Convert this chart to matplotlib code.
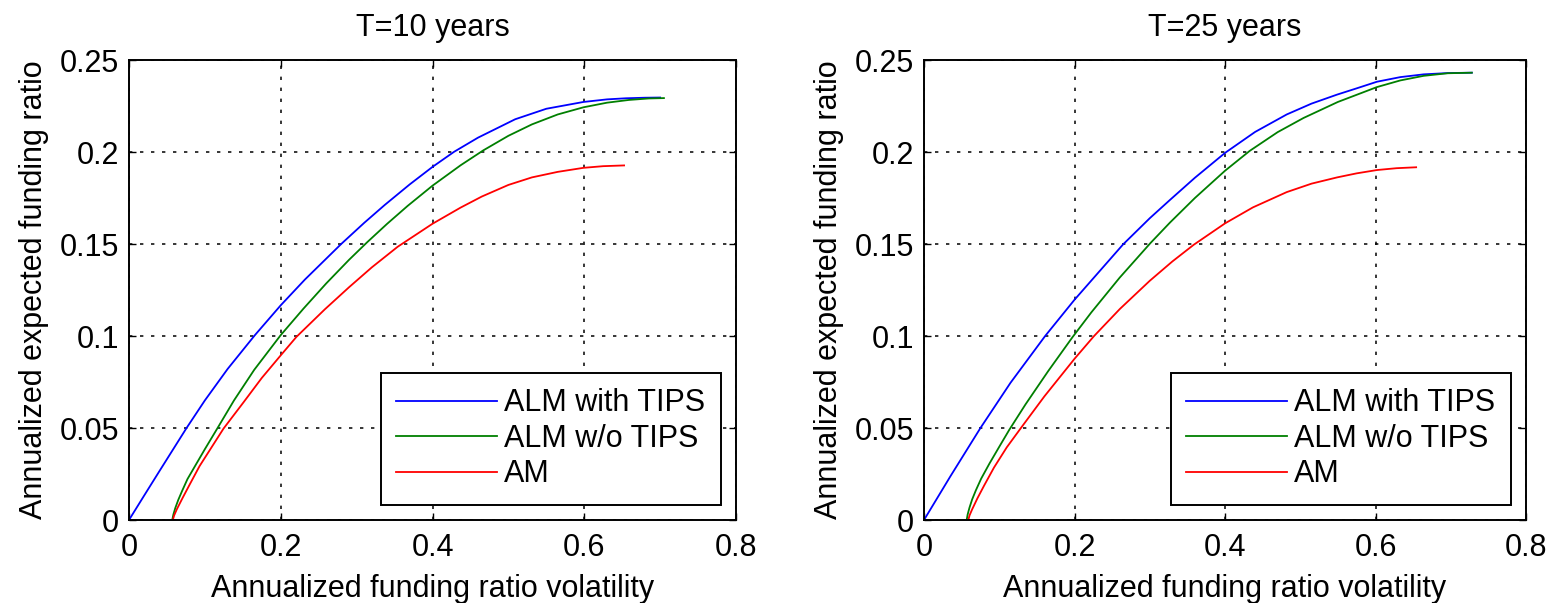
import matplotlib
matplotlib.use("Agg")
import matplotlib.pyplot as plt

# ---------------- data ----------------
titles = ["T=10 years", "T=25 years"]
series_labels = ["ALM with TIPS", "ALM w/o TIPS", "AM"]

# T = 10 years
t10_tips_x = [0, 0.02, 0.04, 0.0757, 0.10, 0.13, 0.166, 0.2, 0.2319, 0.2799, 0.31, 0.337, 0.37, 0.4,
              0.4284, 0.46, 0.509, 0.55, 0.599, 0.63, 0.655, 0.68, 0.70]
t10_tips_y = [0, 0.0133, 0.0265, 0.0499, 0.065, 0.0821, 0.1005, 0.1167, 0.1307, 0.1501, 0.1615, 0.1712,
              0.1824, 0.1919, 0.2001, 0.2078, 0.2178, 0.2235, 0.2272, 0.2286, 0.2292, 0.2295, 0.2296]
t10_notips_x = [0.057, 0.0585, 0.061, 0.065, 0.070, 0.077, 0.0877, 0.100, 0.1163, 0.1384, 0.165, 0.2,
                0.23, 0.26, 0.29, 0.314, 0.34, 0.3672, 0.4, 0.4371, 0.467, 0.50, 0.531, 0.565, 0.599,
                0.63, 0.659, 0.685, 0.705]
t10_notips_y = [0, 0.003, 0.0065, 0.011, 0.0158, 0.0222, 0.0298, 0.0385, 0.0497, 0.065, 0.0816, 0.1005,
                0.1149, 0.1286, 0.1414, 0.151, 0.1609, 0.1707, 0.1817, 0.1928, 0.2009, 0.2088, 0.215,
                0.2204, 0.2243, 0.2268, 0.2283, 0.2291, 0.2293]
t10_am_x = [0.0577, 0.0595, 0.063, 0.0709, 0.08, 0.093, 0.1246, 0.151, 0.175, 0.2, 0.2206, 0.2581, 0.29,
            0.32, 0.3541, 0.4, 0.4371, 0.465, 0.50, 0.531, 0.565, 0.599, 0.625, 0.6525]
t10_am_y = [0, 0.0025, 0.0058, 0.0122, 0.0193, 0.0293, 0.0497, 0.064, 0.0772, 0.0895, 0.0995, 0.1145,
            0.1265, 0.1373, 0.1485, 0.161, 0.1698, 0.1758, 0.1821, 0.1862, 0.1892, 0.1914, 0.1923, 0.1927]

# T = 25 years
t25_tips_x = [0, 0.035, 0.075, 0.115, 0.161, 0.2, 0.2646, 0.30, 0.327, 0.36, 0.4, 0.44, 0.482, 0.515,
              0.549, 0.575, 0.602, 0.633, 0.664, 0.696, 0.728]
t25_tips_y = [0, 0.0237, 0.05, 0.0746, 0.1, 0.1197, 0.1498, 0.164, 0.174, 0.186, 0.1995, 0.2109, 0.2204,
              0.2263, 0.2312, 0.2346, 0.2382, 0.2407, 0.2422, 0.2429, 0.2431]
t25_notips_x = [0.0567, 0.058, 0.0605, 0.064, 0.069, 0.076, 0.087, 0.1, 0.1133, 0.135, 0.165, 0.1974,
                0.2223, 0.26, 0.3009, 0.327, 0.36, 0.4, 0.4328, 0.47, 0.5044, 0.55, 0.602, 0.633, 0.664,
                0.696, 0.728]
t25_notips_y = [0, 0.003, 0.0068, 0.0112, 0.0162, 0.0225, 0.0307, 0.0398, 0.049, 0.0629, 0.0809, 0.0994,
                0.1128, 0.1317, 0.1505, 0.1617, 0.175, 0.1898, 0.2006, 0.2108, 0.2185, 0.2272, 0.2353,
                0.2389, 0.2414, 0.2428, 0.2431]
t25_am_x = [0.0589, 0.0605, 0.064, 0.071, 0.08, 0.093, 0.11, 0.1288, 0.16, 0.2, 0.2258, 0.2603, 0.30,
            0.33, 0.3585, 0.4, 0.4371, 0.482, 0.515, 0.549, 0.575, 0.602, 0.628, 0.654]
t25_am_y = [0, 0.0025, 0.0058, 0.0118, 0.0188, 0.0285, 0.0395, 0.05, 0.0672, 0.0876, 0.0999, 0.1147,
            0.13, 0.1405, 0.1496, 0.1612, 0.1699, 0.1782, 0.1828, 0.1862, 0.1884, 0.1902, 0.1912, 0.1917]

x_ticks = [0, 0.2, 0.4, 0.6, 0.8]
x_ticklabels = ["0", "0.2", "0.4", "0.6", "0.8"]
y_ticks = [0, 0.05, 0.1, 0.15, 0.2, 0.25]
y_ticklabels = ["0", "0.05", "0.1", "0.15", "0.2", "0.25"]

xlabel = "Annualized funding ratio volatility"
ylabel = "Annualized expected funding ratio"

colors = ["#0000ff", "#007f00", "#ff0000"]

# ---------------- figure ----------------
plt.rcParams['font.family'] = ['Liberation Sans', 'DejaVu Sans']
FS = 22

W, H = 1565, 603
fig = plt.figure(figsize=(W / 100, H / 100), dpi=100)
ax1 = fig.add_axes([129 / W, 83 / H, (736 - 129) / W, 460 / H])
ax2 = fig.add_axes([924 / W, 83 / H, (1526 - 924) / W, 460 / H])

panels = [
    (ax1, titles[0], [(t10_tips_x, t10_tips_y), (t10_notips_x, t10_notips_y), (t10_am_x, t10_am_y)]),
    (ax2, titles[1], [(t25_tips_x, t25_tips_y), (t25_notips_x, t25_notips_y), (t25_am_x, t25_am_y)]),
]

for ax, title, series in panels:
    for (xs, ys), lab, col in zip(series, series_labels, colors):
        ax.plot(xs, ys, color=col, lw=1.3, label=lab, solid_joinstyle='round')
    ax.set_xlim(0, 0.8)
    ax.set_ylim(0, 0.25)
    ax.set_xticks(x_ticks)
    ax.set_xticklabels(x_ticklabels)
    ax.set_yticks(y_ticks)
    ax.set_yticklabels(y_ticklabels)
    ax.tick_params(axis='x', direction='in', length=5, width=1, top=True, labelsize=FS, pad=9)
    ax.tick_params(axis='y', direction='in', length=5, width=1, right=True, labelsize=FS, pad=7)
    ax.grid(True, color='black', linestyle=(0, (2.2, 5)), linewidth=1.1)
    ax.set_axisbelow(True)
    for sp in ax.spines.values():
        sp.set_linewidth(1.4)
    ax.set_title(title, fontsize=FS, pad=17)
    ax.set_xlabel(xlabel, fontsize=FS, labelpad=8)
    ax.set_ylabel(ylabel, fontsize=FS, labelpad=8)
    leg = ax.legend(loc='lower right', fontsize=FS, fancybox=False, framealpha=1,
                    edgecolor='black', handlelength=3.3, handletextpad=0.25,
                    labelspacing=0.18, borderpad=0.5, borderaxespad=0.5)
    leg.get_frame().set_linewidth(1.4)

fig.savefig("out.png", dpi=100)
